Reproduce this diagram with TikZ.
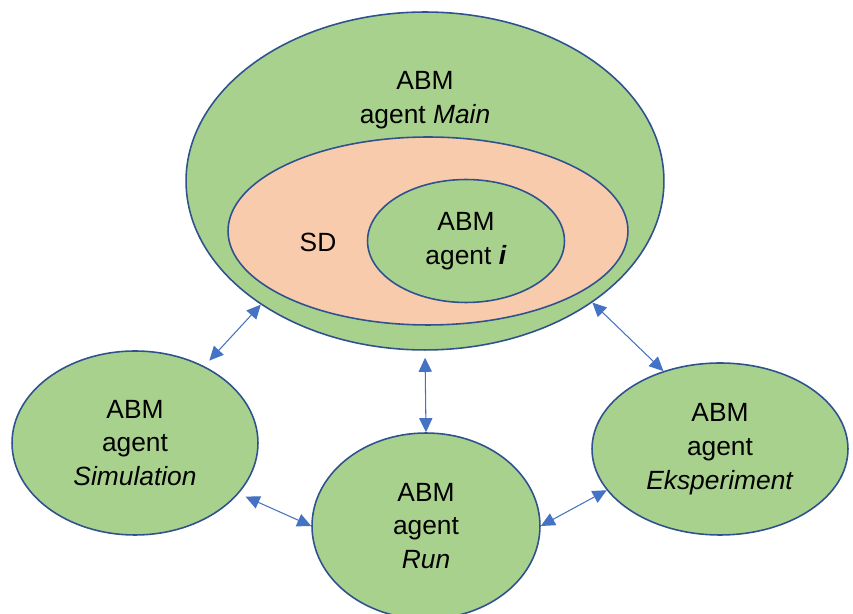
\documentclass[tikz,border=0pt]{standalone}
\usepackage{fontspec}
\setmainfont{Liberation Sans}
\usetikzlibrary{shapes.geometric,arrows.meta}
\definecolor{abmgreen}{HTML}{A9D18E}
\definecolor{sdorange}{HTML}{F8CBAD}
\definecolor{rim}{HTML}{2F528F}
\definecolor{arrowblue}{HTML}{4472C4}
\begin{document}
\begin{tikzpicture}[x=0.02cm, y=-0.02cm,
	agent/.style={ellipse, draw=rim, line width=0.9pt, fill=abmgreen, inner sep=0pt, align=center, font=\fontsize{15}{19.3}\selectfont},
	txt/.style={align=center, font=\fontsize{15}{19.3}\selectfont},
	link/.style={{Triangle[width=7.5pt,length=8pt]}-{Triangle[width=7.5pt,length=8pt]}, draw=arrowblue, line width=0.6pt}]
	\useasboundingbox (0,0) rectangle (853,614);

	% Main with SD and agent i inside
	\node[agent, minimum width=9.56cm, minimum height=6.76cm] (main) at (425,181) {};
	\node[txt] (maintxt) at (425,100) {ABM\\agent \textit{Main}};
	\node[agent, fill=sdorange, minimum width=8cm, minimum height=3.76cm] (sd) at (428,231) {};
	\node[txt] (sdtxt) at (318,242) {SD};
	\node[agent, minimum width=3.94cm, minimum height=2.46cm] (agi) at (466,241) {ABM\\agent \textbf{\textit{i}}};

	% outer agents
	\node[agent, minimum width=4.92cm, minimum height=3.68cm] (sim) at (135,443) {ABM\\agent\\\textit{Simulation}};
	\node[agent, minimum width=4.56cm, minimum height=3.72cm] (run) at (426,526) {ABM\\agent\\\textit{Run}};
	\node[agent, minimum width=5.12cm, minimum height=3.44cm] (eks) at (720,449) {ABM\\agent\\\textit{Eksperiment}};

	\draw[link, shorten >=0.15cm] (main.217) -- (sim.48);
	\draw[link, shorten <=0.14cm] (main.270) -- (run.90);
	\draw[link] (main.324) -- (eks.126);
	\draw[link, shorten <=0.15cm] (sim.334) -- (run.180);
	\draw[link] (run.0) -- (eks.200);
\end{tikzpicture}
\end{document}
